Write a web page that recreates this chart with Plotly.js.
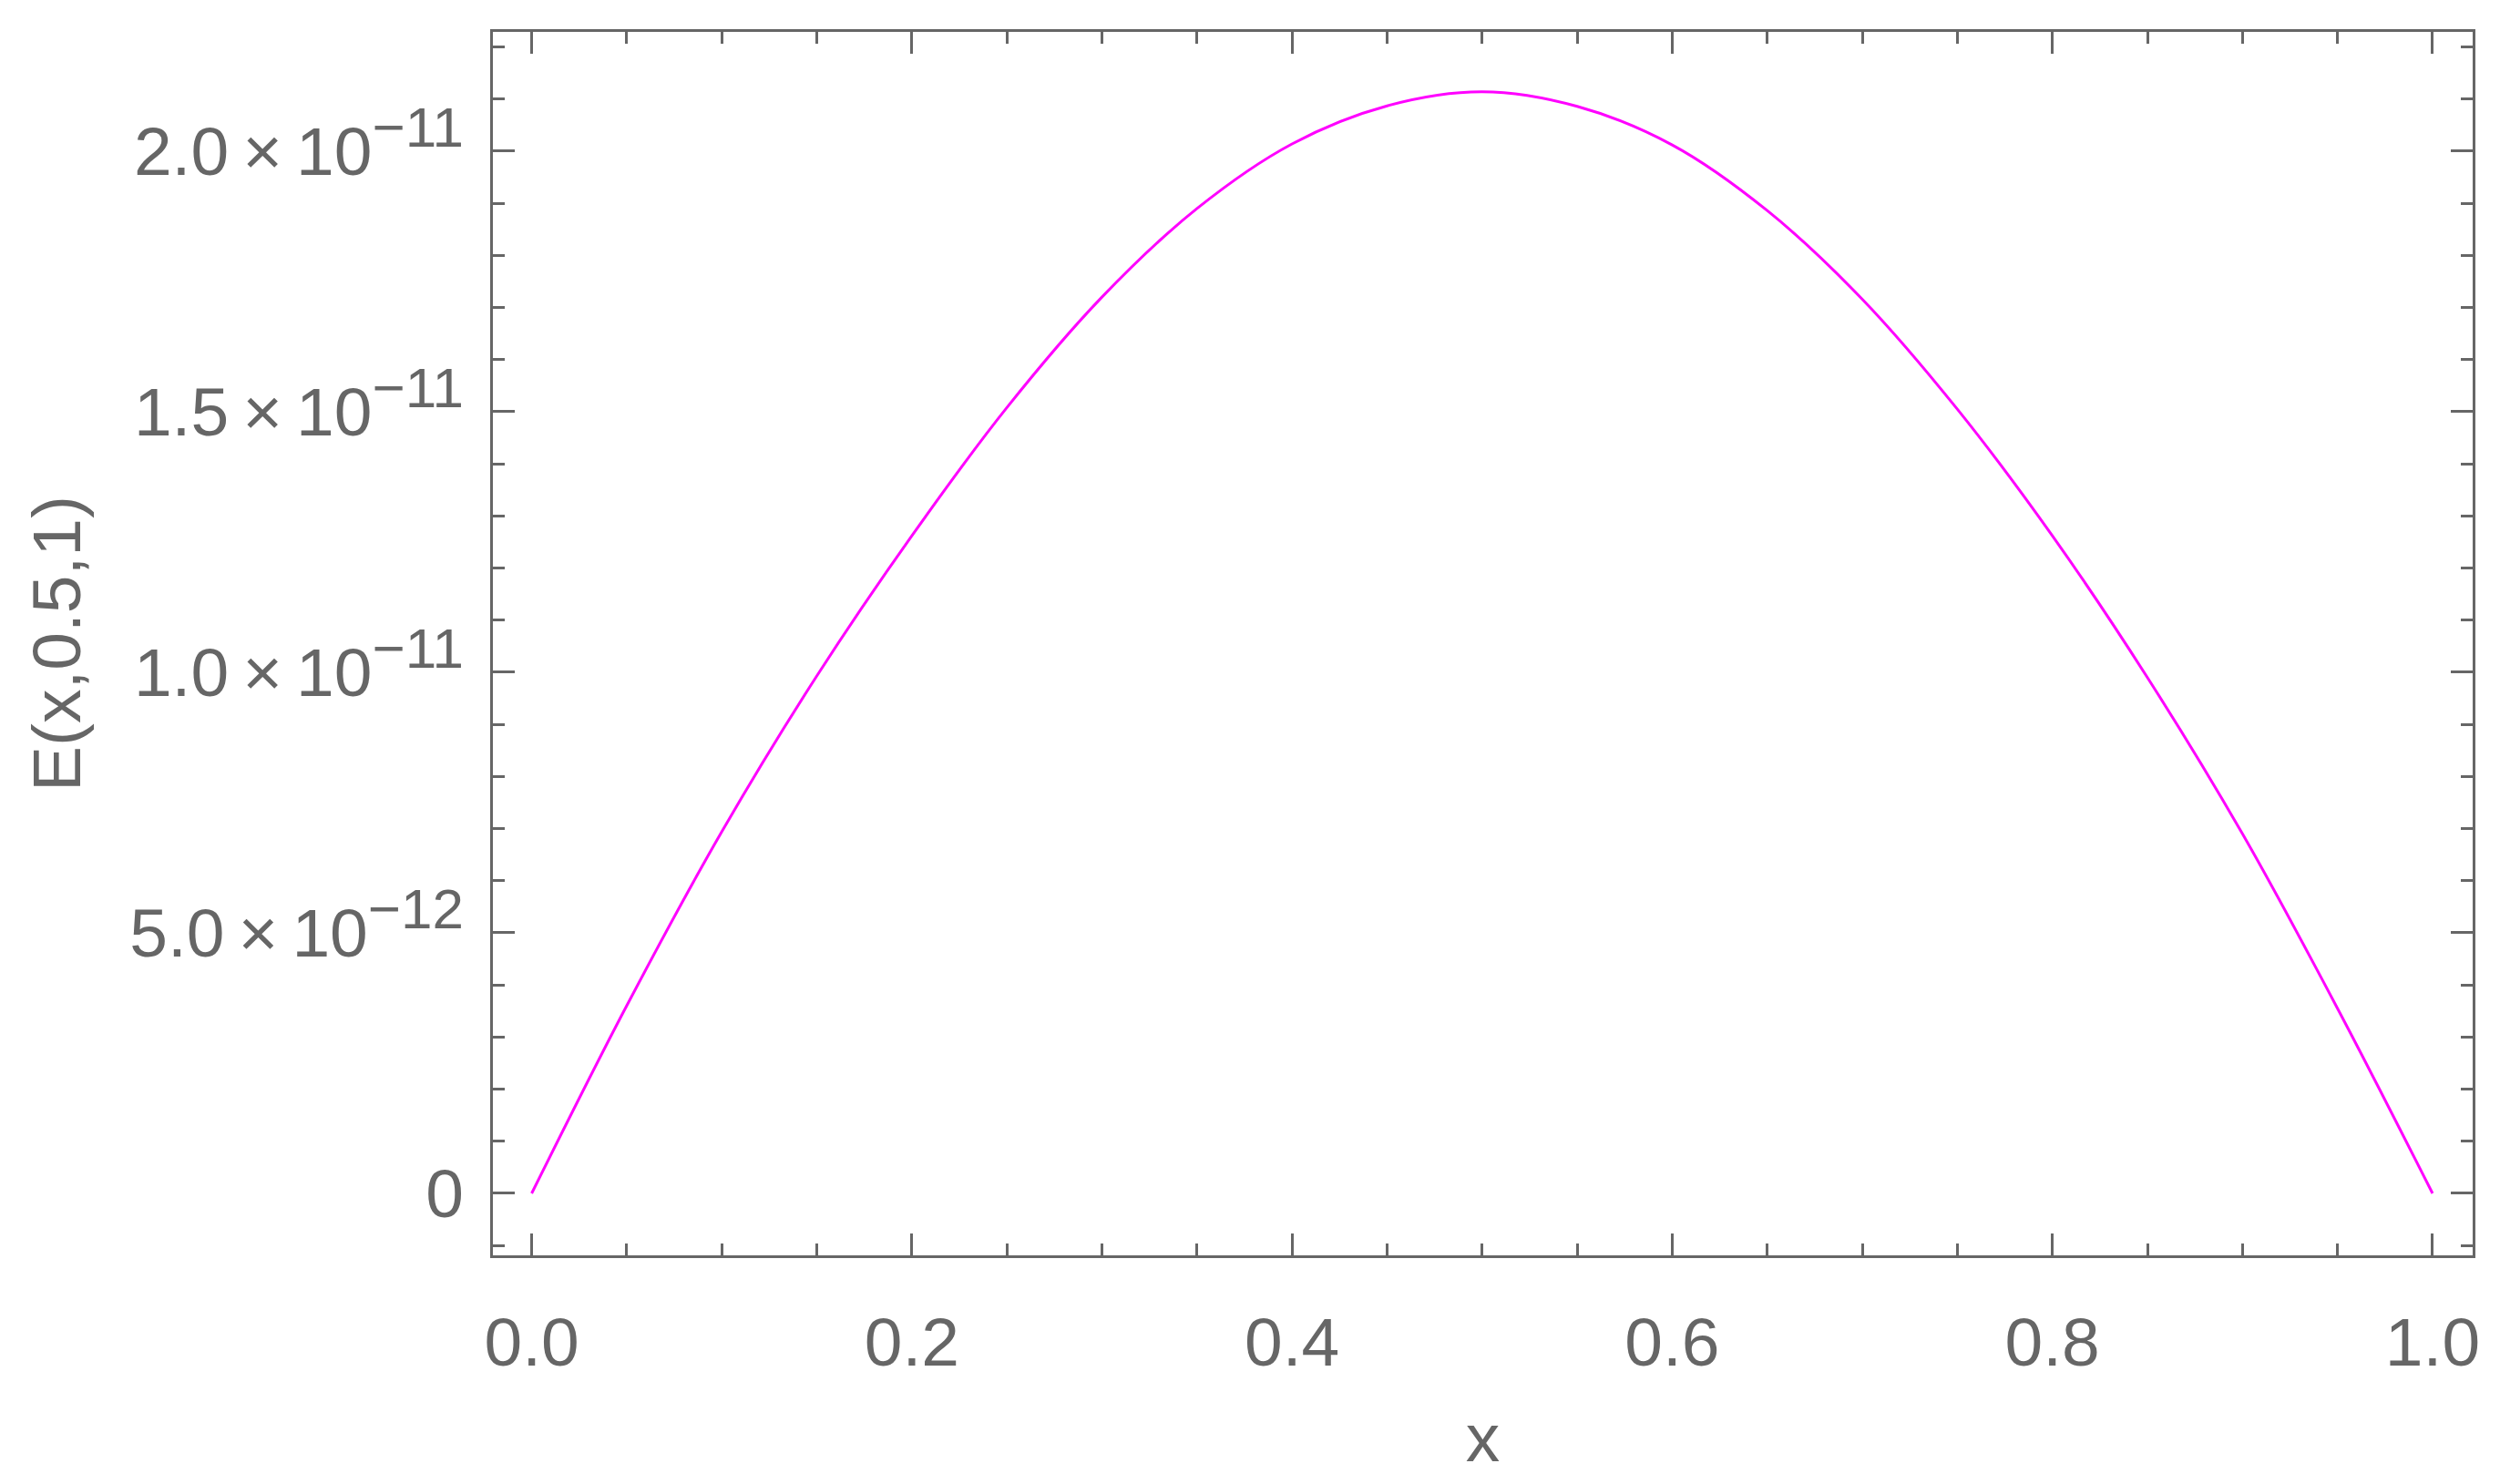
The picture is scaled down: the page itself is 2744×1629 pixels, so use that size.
<!DOCTYPE html>
<html>
<head>
<meta charset="utf-8">
<script src="https://cdn.plot.ly/plotly-3.0.1.min.js"></script>
<style>
  html, body { margin: 0; padding: 0; background: #fff; }
  #chart { width: 2744px; height: 1629px; }
</style>
</head>
<body>
<div id="chart"></div>
<script>
// E(x,0.5,1), every 0.05 in x
const xs = [0, 0.05, 0.10, 0.15, 0.20, 0.25, 0.30, 0.35, 0.40, 0.45, 0.50,
            0.55, 0.60, 0.65, 0.70, 0.75, 0.80, 0.85, 0.90, 0.95, 1.0];
const ys = [0, 3.60e-12, 6.94e-12, 9.93e-12, 1.262e-11, 1.508e-11, 1.720e-11, 1.890e-11, 2.014e-11, 2.087e-11, 2.114e-11,
            2.086e-11, 2.012e-11, 1.886e-11, 1.716e-11, 1.505e-11, 1.262e-11, 9.90e-12, 6.90e-12, 3.55e-12, 0];

const xTickVals = [0, 0.2, 0.4, 0.6, 0.8, 1.0];
const xTickText = ["0.0", "0.2", "0.4", "0.6", "0.8", "1.0"];
const yTickVals = [0, 5e-12, 1e-11, 1.5e-11, 2e-11];
const yMantissa = ["0", "5.0", "1.0", "1.5", "2.0"];
const yExponent = [null, "\u221212", "\u221211", "\u221211", "\u221211"];

const grey = "#666666";
const fontFam = "Liberation Sans, Arial, sans-serif";

const yTickText = yMantissa.map((m, i) => yExponent[i] === null ? m
  : `${m}\u2009\u00d7\u200910<sup><span style="font-size:62px">${yExponent[i]}</span></sup>`);

const trace = {
  x: xs,
  y: ys,
  type: "scatter",
  mode: "lines",
  line: { color: "#ff00ff", width: 3, shape: "spline", smoothing: 1 },
  hoverinfo: "skip"
};

const axisCommon = {
  showline: true,
  linecolor: grey,
  linewidth: 3,
  mirror: "allticks",
  ticks: "inside",
  ticklen: 24,
  tickwidth: 3,
  tickcolor: grey,
  showgrid: false,
  zeroline: false,
  tickmode: "array",
  tickfont: { family: fontFam, size: 75, color: grey }
};

const layout = {
  width: 2744,
  height: 1629,
  margin: { l: 541, r: 30, t: 35, b: 251 },
  paper_bgcolor: "#fff",
  plot_bgcolor: "#fff",
  showlegend: false,
  xaxis: Object.assign({}, axisCommon, {
    range: [-0.0204, 1.0211],
    tickvals: xTickVals,
    ticktext: xTickText,
    ticklabelstandoff: 28,
    minor: { ticks: "inside", ticklen: 13, tickwidth: 3, tickcolor: grey, dtick: 0.05, tick0: 0, showgrid: false },
    title: { text: "x", standoff: 38, font: { family: fontFam, size: 75, color: grey } }
  }),
  yaxis: Object.assign({}, axisCommon, {
    range: [-1.189e-12, 2.229e-11],
    tickvals: yTickVals,
    ticktext: yTickText,
    ticklabelstandoff: 14,
    minor: { ticks: "inside", ticklen: 13, tickwidth: 3, tickcolor: grey, dtick: 1e-12, tick0: 0, showgrid: false },
    title: { text: "E(x,0.5,1)", standoff: 30, font: { family: fontFam, size: 75, color: grey } }
  })
};

Plotly.newPlot("chart", [trace], layout, { staticPlot: true, displayModeBar: false });
</script>
</body>
</html>
